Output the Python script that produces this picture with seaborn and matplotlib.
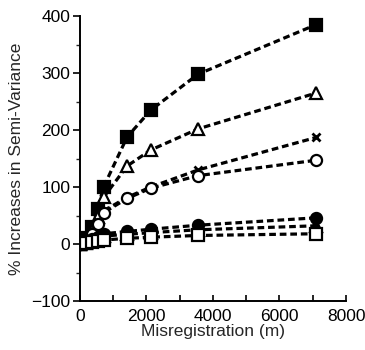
import matplotlib
matplotlib.use("Agg")
import matplotlib.pyplot as plt
import seaborn as sns
import pandas as pd
from matplotlib.ticker import MultipleLocator

sns.set_style("ticks")
plt.rcParams['font.family'] = ['Liberation Sans', 'DejaVu Sans']

misreg = [0, 180, 360, 530, 710, 1420, 2130, 3550, 7100]
s_filled_square = [0, 10, 30, 62, 100, 188, 235, 298, 385]
s_open_triangle = [0, 8, 22, 48, 82, 137, 165, 202, 265]
s_cross = [0, 6, 18, 38, 58, 82, 100, 130, 187]
s_open_circle = [0, 6, 17, 36, 55, 80, 98, 120, 147]
s_filled_circle = [0, 3, 8, 13, 18, 22, 26, 33, 46]
s_filled_triangle = [0, 2, 6, 10, 14, 17, 20, 25, 32]
s_open_square = [0, 1, 3, 5, 7, 10, 12, 15, 18]

series = [
    ("filled_square", s_filled_square, "s", "black"),
    ("open_triangle", s_open_triangle, "^", "white"),
    ("cross", s_cross, "x", "black"),
    ("open_circle", s_open_circle, "o", "white"),
    ("filled_circle", s_filled_circle, "o", "black"),
    ("filled_triangle", s_filled_triangle, "^", "black"),
    ("open_square", s_open_square, "s", "white"),
]

rows = []
for name, vals, m, fc in series:
    for x, y in zip(misreg, vals):
        rows.append({"x": x, "y": y, "s": name})
df = pd.DataFrame(rows)

fig = plt.figure(figsize=(3.65, 3.5), dpi=100)
ax = fig.add_axes([0.219, 0.14, 0.729, 0.814])

for name, vals, m, fc in series:
    sub = df[df.s == name]
    sns.lineplot(data=sub, x="x", y="y", ax=ax, color="black", linewidth=2.3,
                 linestyle=(0, (2.1, 1.2)), legend=False)
    ax.plot(sub.x, sub.y, linestyle="none", marker=m,
            markersize=8 if m != "x" else 6,
            markerfacecolor=fc, markeredgecolor="black",
            markeredgewidth=1.6 if m != "x" else 2.0, zorder=3)

ax.set_xlim(0, 8000)
ax.set_ylim(-100, 400)
ax.xaxis.set_major_locator(MultipleLocator(2000))
ax.xaxis.set_minor_locator(MultipleLocator(1000))
ax.yaxis.set_major_locator(MultipleLocator(100))
ax.yaxis.set_minor_locator(MultipleLocator(50))
ax.tick_params(axis="x", which="both", direction="in", length=4, width=1.2,
               labelsize=12.5, colors="black", pad=6)
ax.tick_params(axis="y", which="major", direction="out", length=5, width=1.2,
               labelsize=12.5, colors="black", pad=2)
ax.tick_params(axis="y", which="minor", direction="out", length=3, width=1)
for side in ["top", "right"]:
    ax.spines[side].set_visible(False)
for side in ["left", "bottom"]:
    ax.spines[side].set_linewidth(1.4)
    ax.spines[side].set_color("black")
ax.set_xlabel("Misregistration (m)", fontsize=12.5, labelpad=0)
ax.set_ylabel("% Increases in Semi-Variance", fontsize=12.5, labelpad=5)

fig.savefig("out.png", dpi=100)
